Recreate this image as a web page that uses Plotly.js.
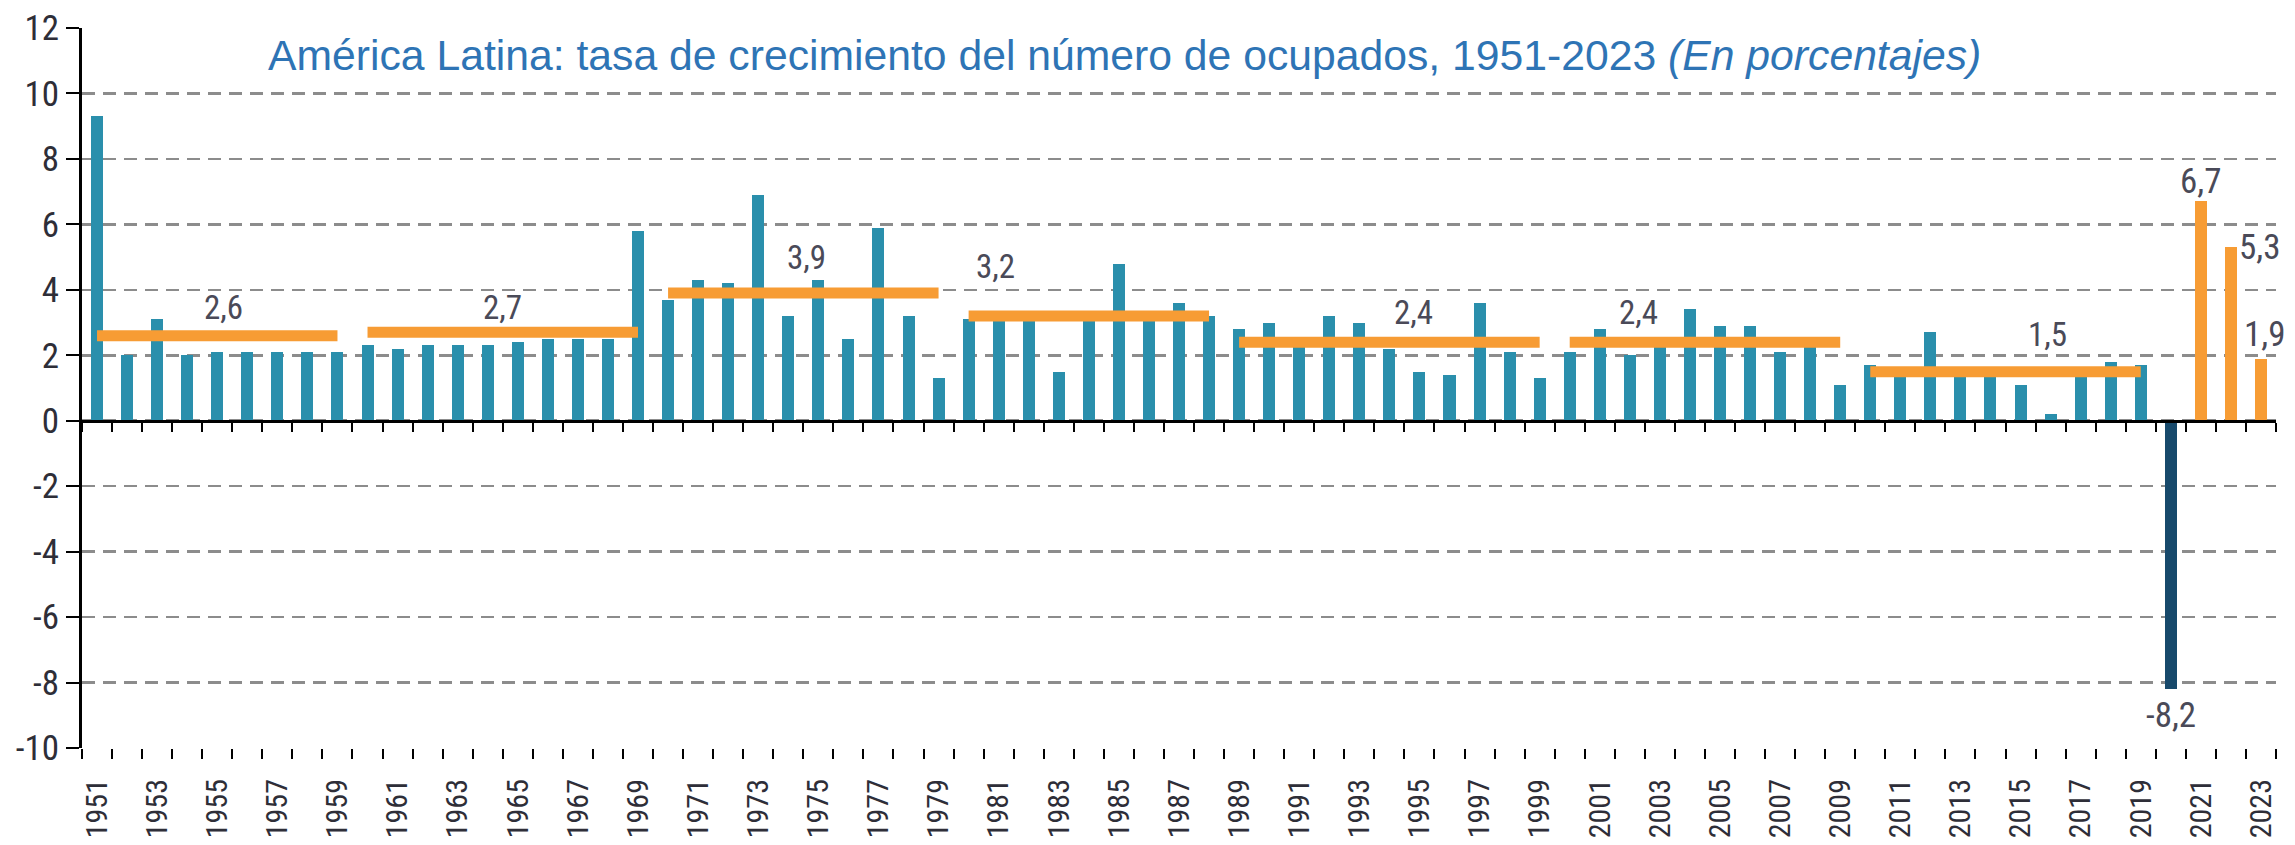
<!DOCTYPE html>
<html>
<head>
<meta charset="utf-8">
<script src="https://cdn.plot.ly/plotly-3.0.1.min.js"></script>
<style>
  html, body { margin: 0; padding: 0; background: #ffffff; }
  #chart { width: 2295px; height: 845px; }
</style>
</head>
<body>
<div id="chart"></div>
<script>
// ---------------- DATA ----------------
const years = [
  1951,1952,1953,1954,1955,1956,1957,1958,1959,1960,
  1961,1962,1963,1964,1965,1966,1967,1968,1969,1970,
  1971,1972,1973,1974,1975,1976,1977,1978,1979,1980,
  1981,1982,1983,1984,1985,1986,1987,1988,1989,1990,
  1991,1992,1993,1994,1995,1996,1997,1998,1999,2000,
  2001,2002,2003,2004,2005,2006,2007,2008,2009,2010,
  2011,2012,2013,2014,2015,2016,2017,2018,2019,2020,
  2021,2022,2023
];
const growthRate = [
  9.3,2.0,3.1,2.0,2.1,2.1,2.1,2.1,2.1,2.3,
  2.2,2.3,2.3,2.3,2.4,2.5,2.5,2.5,5.8,3.7,
  4.3,4.2,6.9,3.2,4.3,2.5,5.9,3.2,1.3,3.1,
  3.1,3.1,1.5,3.1,4.8,3.2,3.6,3.2,2.8,3.0,
  2.3,3.2,3.0,2.2,1.5,1.4,3.6,2.1,1.3,2.1,
  2.8,2.0,2.3,3.4,2.9,2.9,2.1,2.4,1.1,1.7,
  1.4,2.7,1.5,1.5,1.1,0.2,1.4,1.8,1.7,-8.2,
  6.7,5.3,1.9
];
const labeledYears = [2020, 2021, 2022, 2023];

const periodStart = [1951, 1960, 1970, 1980, 1989, 2000, 2010];
const periodEnd   = [1959, 1969, 1979, 1988, 1999, 2009, 2019];
const periodMean  = [2.6, 2.7, 3.9, 3.2, 2.4, 2.4, 1.5];

const yTicks = [-10,-8,-6,-4,-2,0,2,4,6,8,10,12];
const xTickLabelYears = years.filter(y => y % 2 === 1);

const titleMain = "América Latina: tasa de crecimiento del número de ocupados, 1951-2023 ";
const titleItalic = "(En porcentajes)";

// ---------------- STYLE ----------------
const TEAL = "#2a8fac";
const NAVY = "#17496b";
const ORANGE = "#f79c34";
const GRID = "#8c8c8c";
const TXT = "#2e2e38";
const LBL = "#4a4a58";
const NARROW = "'Liberation Sans Narrow', 'Roboto Condensed', 'DejaVu Sans Condensed', sans-serif";

const fmt = v => v.toFixed(1).replace(".", ",");

const barColors = years.map(y => y === 2020 ? NAVY : (y > 2020 ? ORANGE : TEAL));
const boundaries = years.map(y => y - 0.5).concat([years[years.length - 1] + 0.5]);

const traces = [{
  type: "bar",
  x: years,
  y: growthRate,
  marker: { color: barColors, line: { width: 0 } },
  width: 0.4,
  xaxis: "x",
  yaxis: "y",
  hoverinfo: "x+y",
  showlegend: false
}];

periodStart.forEach((s, i) => {
  traces.push({
    type: "scatter",
    mode: "lines",
    x: [s, periodEnd[i]],
    y: [periodMean[i], periodMean[i]],
    line: { color: ORANGE, width: 11 },
    xaxis: "x",
    yaxis: "y",
    showlegend: false,
    hoverinfo: "skip"
  });
});

// invisible carriers so that the label axis and the zero-line axis get drawn
["x2", "x3"].forEach(ax => {
  traces.push({
    type: "scatter", mode: "markers",
    x: years, y: growthRate,
    marker: { opacity: 0, size: 1 },
    xaxis: ax, yaxis: "y",
    showlegend: false, hoverinfo: "skip"
  });
});

// label placement for period averages (x in years, y in data units)
const meanLabelPlace = [[1955.2, 3.45], [1964.5, 3.45], [1974.6, 5.0], [1980.9, 4.7], [1994.8, 3.3], [2002.3, 3.3], [2015.9, 2.65]];

const annotations = [];
periodMean.forEach((m, i) => {
  annotations.push({
    x: meanLabelPlace[i][0], y: meanLabelPlace[i][1], xref: "x", yref: "y",
    text: fmt(m), showarrow: false,
    font: { family: NARROW, size: 33, color: LBL },
    xanchor: "center", yanchor: "middle"
  });
});

labeledYears.forEach(yr => {
  const v = growthRate[years.indexOf(yr)];
  const a = {
    x: yr, y: v, xref: "x", yref: "y", text: fmt(v), showarrow: false,
    font: { family: NARROW, size: 35, color: LBL }
  };
  if (yr === 2020) { a.yanchor = "top"; a.xanchor = "center"; a.yshift = -4; }
  else if (yr === 2021) { a.yanchor = "bottom"; a.xanchor = "center"; a.yshift = -3; }
  else if (yr === 2022) { a.yanchor = "middle"; a.xanchor = "left"; a.xshift = 6; a.yshift = 0; }
  else { a.yanchor = "bottom"; a.xanchor = "center"; a.xshift = 4; a.yshift = 2; }
  annotations.push(a);
});

const layout = {
  width: 2295,
  height: 845,
  paper_bgcolor: "#ffffff",
  plot_bgcolor: "#ffffff",
  margin: { l: 82, r: 19, t: 28, b: 97, pad: 0 },
  showlegend: false,
  bargap: 0,
  title: {
    text: titleMain + "<i>" + titleItalic + "</i>",
    font: { family: "'Liberation Sans', Arial, sans-serif", size: 42.7, color: "#2e74b5" },
    xref: "container", yref: "container",
    x: 268 / 2295, xanchor: "left",
    y: 1 - 40 / 845, yanchor: "top"
  },
  xaxis: {
    type: "linear",
    range: [1950.5, 2023.5],
    tickmode: "array",
    tickvals: boundaries,
    showticklabels: false,
    ticks: "outside", ticklen: 10, tickwidth: 2, tickcolor: "#000",
    showgrid: false, zeroline: false, showline: false,
    anchor: "y", side: "bottom", fixedrange: true
  },
  xaxis2: {
    type: "linear",
    overlaying: "x",
    range: [1950.5, 2023.5],
    tickmode: "array",
    tickvals: xTickLabelYears,
    ticktext: xTickLabelYears.map(String),
    tickangle: -90,
    ticks: "outside", ticklen: 18, tickwidth: 1, tickcolor: "rgba(0,0,0,0)",
    tickfont: { family: NARROW, size: 30, color: TXT },
    showgrid: false, zeroline: false, showline: false,
    anchor: "y", side: "bottom", fixedrange: true
  },
  xaxis3: {
    type: "linear",
    overlaying: "x",
    range: [1950.5, 2023.5],
    tickmode: "array",
    tickvals: boundaries,
    showticklabels: false,
    ticks: "outside", ticklen: 9, tickwidth: 2, tickcolor: "#000",
    showgrid: false, zeroline: false,
    showline: true, linecolor: "#000", linewidth: 3,
    anchor: "free", position: 10 / 22, side: "bottom", fixedrange: true
  },
  yaxis: {
    range: [-10, 12],
    tickmode: "array",
    tickvals: yTicks,
    ticktext: yTicks.map(String),
    tickfont: { family: NARROW, size: 35, color: TXT },
    ticks: "outside", ticklen: 13, tickwidth: 2, tickcolor: "#000",
    ticklabelstandoff: 0,
    showgrid: true, gridcolor: GRID, gridwidth: 2.5, griddash: "13px,8px",
    zeroline: false,
    showline: true, linecolor: "#000", linewidth: 3,
    anchor: "x", fixedrange: true
  },
  annotations: annotations
};

Plotly.newPlot("chart", traces, layout, { displayModeBar: false, staticPlot: true });
</script>
</body>
</html>
